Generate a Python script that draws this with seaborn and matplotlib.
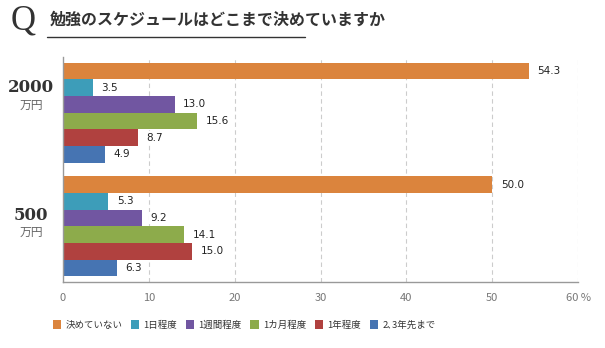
import matplotlib
matplotlib.use("Agg")
import matplotlib.pyplot as plt
import seaborn as sns
import pandas as pd
from matplotlib.lines import Line2D
from matplotlib.patches import Patch

groups = ["2000", "500"]
categories = ["決めていない", "1日程度", "1週間程度", "1カ月程度", "1年程度", "2､3年先まで"]
values_2000 = [54.3, 3.5, 13.0, 15.6, 8.7, 4.9]
values_500 = [50.0, 5.3, 9.2, 14.1, 15.0, 6.3]
colors = ["#DB843D", "#3D9DB9", "#7156A1", "#8DAB4B", "#B0413F", "#4674B2"]
xticks = [0, 10, 20, 30, 40, 50, 60]
xtick_labels = ["0", "10", "20", "30", "40", "50", "60 %"]
title = "勉強のスケジュールはどこまで決めていますか"

sns.set_theme(style="white")
plt.rcParams['font.family'] = ['Noto Sans CJK JP', 'DejaVu Sans']

rows = []
for g, vals in zip(groups, [values_2000, values_500]):
    for c, v in zip(categories, vals):
        rows.append({"group": g, "cat": c, "value": v})
df = pd.DataFrame(rows)

fig = plt.figure(figsize=(6.05, 3.48), dpi=100)
ax = fig.add_axes([63/605, 1-282/348, (578-63)/605, (282-57)/348])

sns.barplot(data=df, y="group", x="value", hue="cat", order=groups,
            hue_order=categories, palette=colors, orient="h", width=0.88,
            saturation=1, ax=ax, legend=False, edgecolor="none", linewidth=0)

ax.set_xlim(0, 60)
ax.set_ylim(1.49, -0.49)
ax.set_xticks(xticks)
ax.set_xticklabels(xtick_labels, fontsize=8, color="#777777")
ax.tick_params(axis="x", length=0, pad=8)
ax.set_yticks([])
ax.set_xlabel("")
ax.set_ylabel("")
for x in xticks[1:]:
    ax.axvline(x, color="#CCCCCC", linestyle=(0, (4, 3)), linewidth=0.8, zorder=0)
for s in ["top", "right"]:
    ax.spines[s].set_visible(False)
for s in ["left", "bottom"]:
    ax.spines[s].set_color("#999999")
    ax.spines[s].set_linewidth(1.0)

for cont in ax.containers:
    for bar in cont:
        w = bar.get_width()
        yc = bar.get_y() + bar.get_height() / 2
        ax.text(w + 1.0, yc, f"{w:.1f}", va="center", ha="left", fontsize=7.5,
                color="#222222", family=["DejaVu Sans"],
                bbox=dict(facecolor="white", edgecolor="none", pad=1.0))

# Group labels
for g, yc in zip(groups, [88, 215]):
    fig.text(31/605, 1-yc/348, g, ha="center", va="center", fontsize=12,
             fontweight="bold", family=["DejaVu Serif"], color="#333333")
    fig.text(31/605, 1-(yc+17)/348, "万円", ha="center", va="center", fontsize=8.5,
             color="#666666")

# Title
fig.text(23/605, 1-21/348, "Q", ha="center", va="center", fontsize=25,
         family=["Liberation Serif"], color="#333333")
fig.text(50/605, 1-20/348, title, ha="left", va="center", fontsize=11.5,
         fontweight="bold", color="#333333")
fig.add_artist(Line2D([47/605, 305/605], [1-37/348, 1-37/348], color="#333333",
                      linewidth=1.0, transform=fig.transFigure))

handles = [Patch(facecolor=c, edgecolor="none") for c in colors]
fig.legend(handles, categories, loc="center left", bbox_to_anchor=(44/605, 1-325/348),
           ncol=6, frameon=False, fontsize=6.8, handlelength=0.9, handleheight=1.0,
           handletextpad=0.45, columnspacing=0.9, labelcolor="#333333")

fig.savefig("out.png", dpi=100)
